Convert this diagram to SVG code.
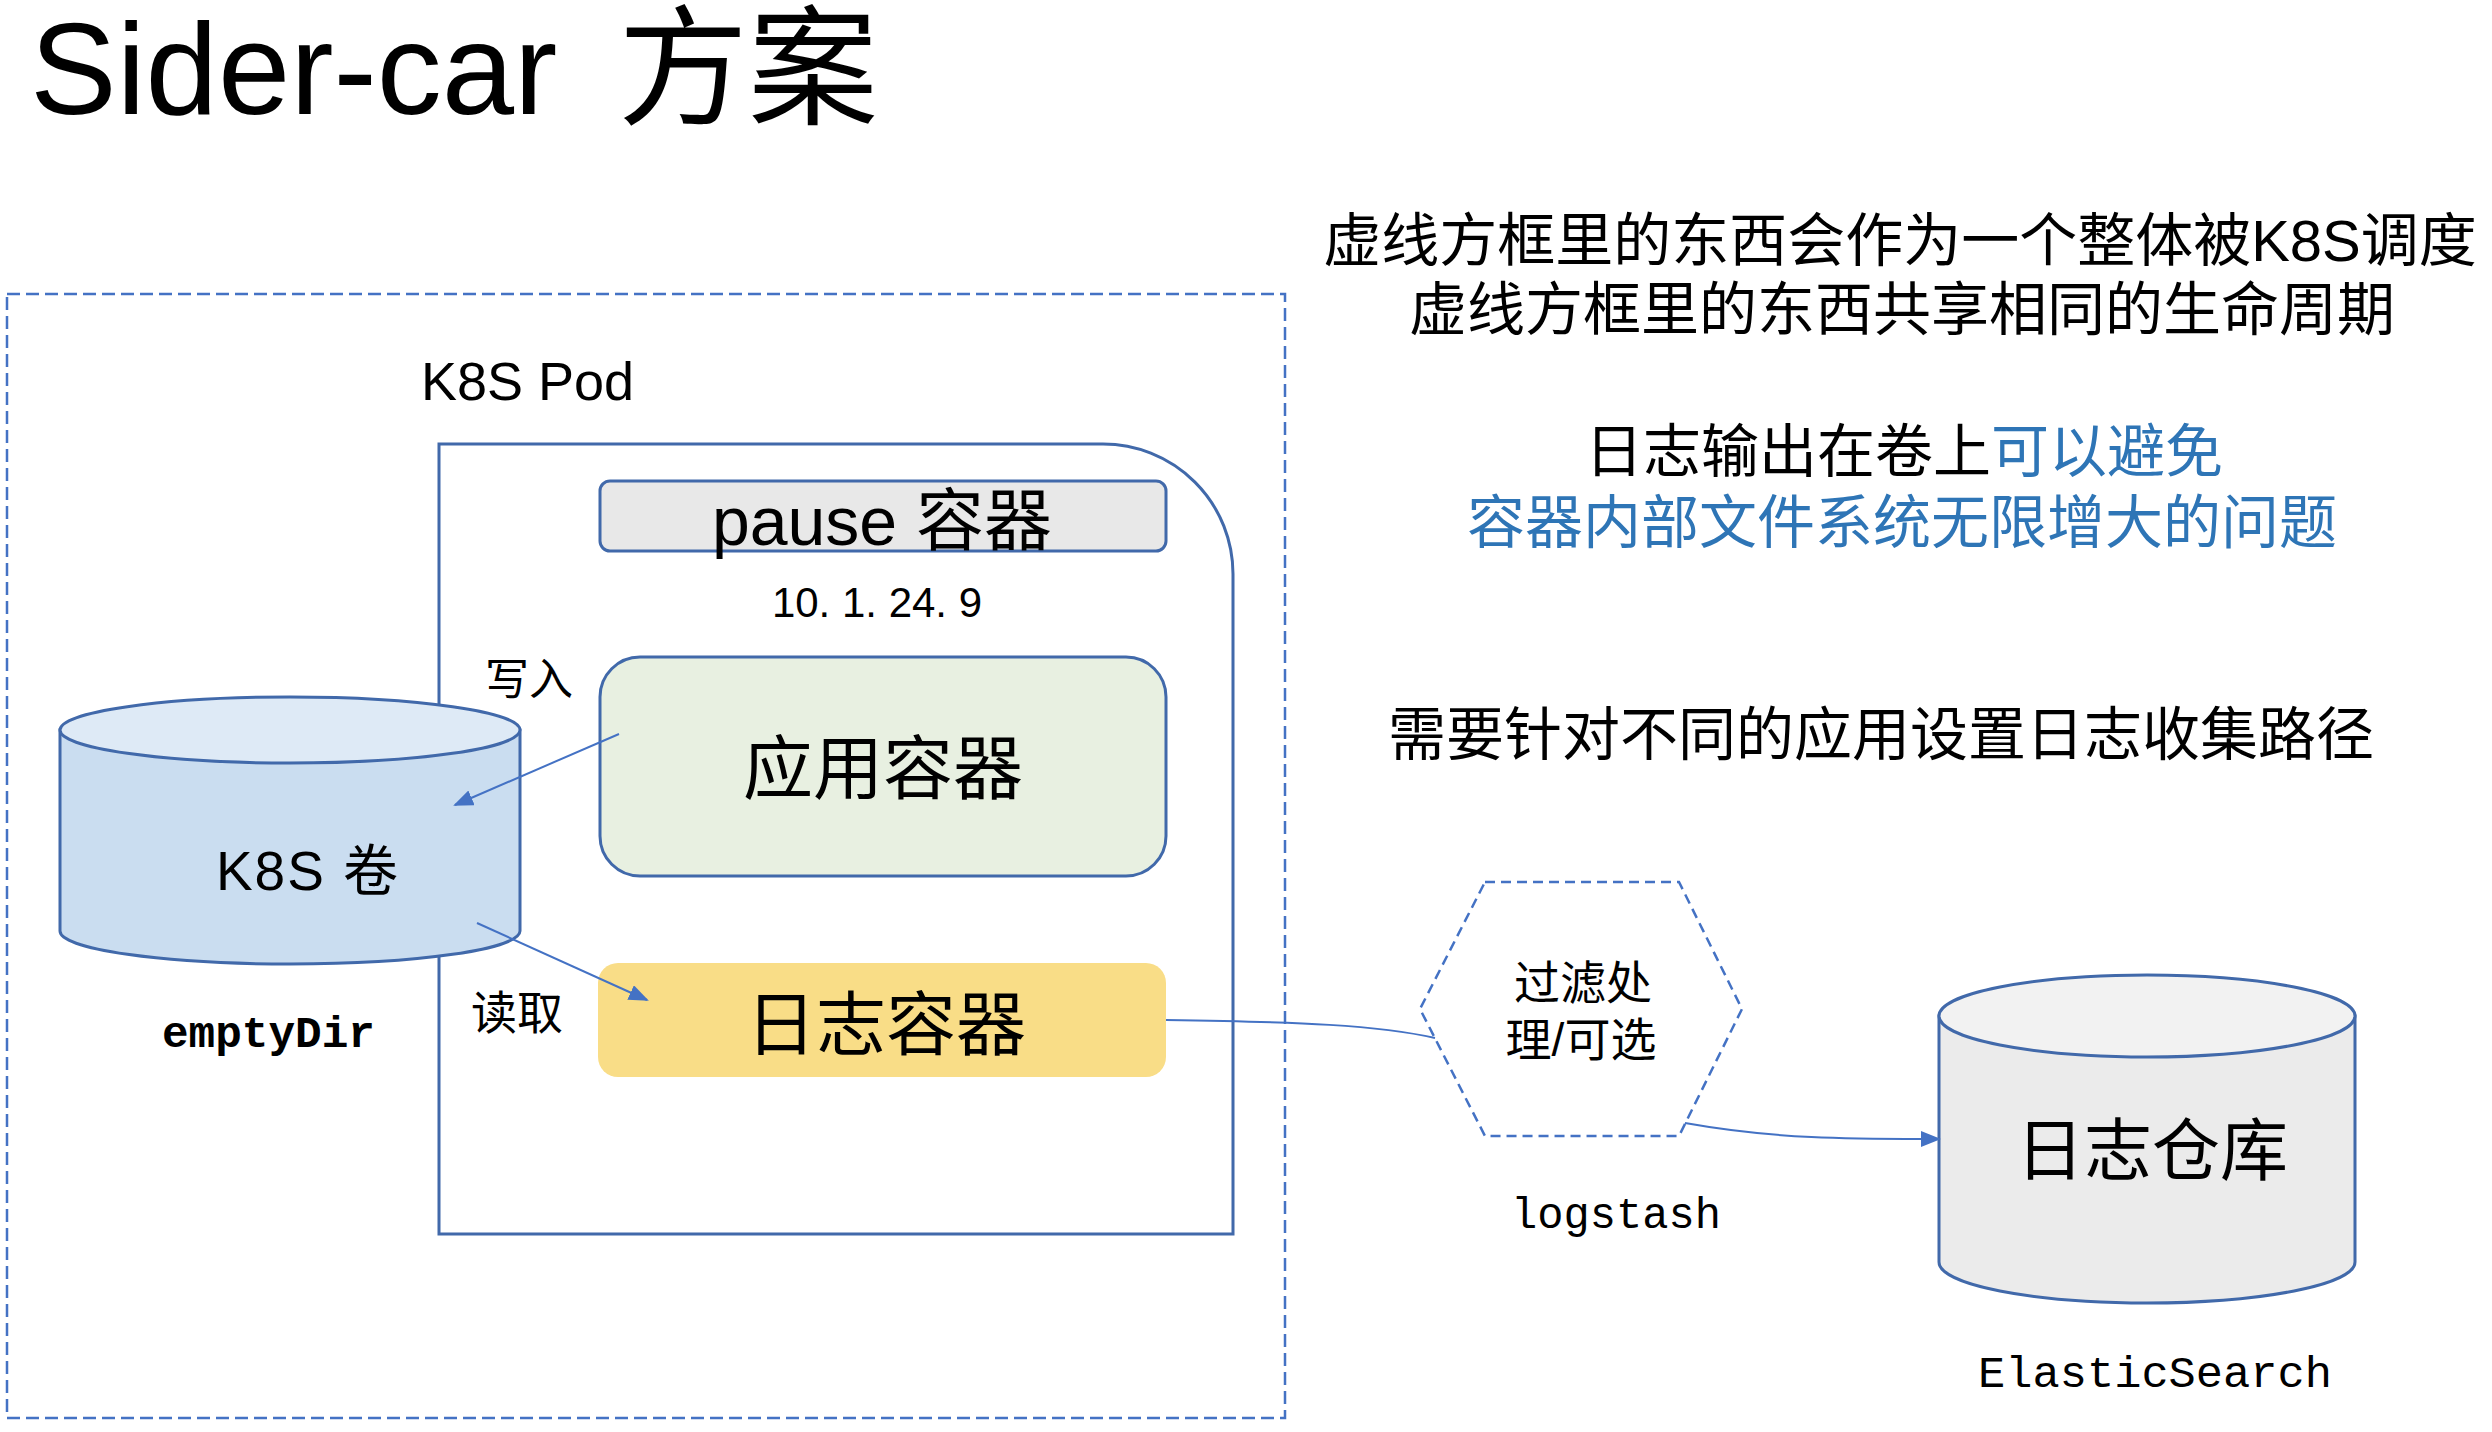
<svg xmlns="http://www.w3.org/2000/svg" width="2492" height="1432" viewBox="0 0 2492 1432">
<style>
.cjk{font-family:"Liberation Sans","Noto Sans CJK SC",sans-serif;fill:#000}
.mono{font-family:"Liberation Mono","DejaVu Sans Mono",monospace;fill:#000}
.blue{fill:#2E75B6}
.outline{stroke:#4169AA;stroke-width:3}
.conn{stroke:#4472C4;stroke-width:2;fill:none}
</style>
<defs>
<marker id="arr" markerUnits="userSpaceOnUse" markerWidth="20" markerHeight="16" refX="18" refY="8" orient="auto">
<path d="M0,0 L20,8 L0,16 Z" fill="#4472C4"/>
</marker>
</defs>
<rect width="2492" height="1432" fill="#fff"/>

<g id="title">
<text class="cjk" x="30" y="114" font-size="130">Sider-car<tspan x="618">方案</tspan></text>
</g>

<g id="scope">
<rect x="7" y="294" width="1278" height="1124" fill="none" stroke="#4472C4" stroke-width="2.5" stroke-dasharray="13 6"/>
</g>

<g id="pod">
<path d="M439,444 H1103 A130,130 0 0 1 1233,574 V1234 H439 Z" fill="#fff" class="outline"/>
<text class="cjk" x="421" y="400" font-size="54">K8S Pod</text>
</g>

<g id="pause">
<rect x="600" y="481" width="566" height="70" rx="10" fill="#E8E8E8" class="outline"/>
<text class="cjk" x="882" y="545" font-size="68" text-anchor="middle">pause 容器</text>
<text class="cjk" x="877" y="617" font-size="42" text-anchor="middle">10. 1. 24. 9</text>
</g>

<g id="app">
<rect x="600" y="657" width="566" height="219" rx="40" fill="#E8F0E1" class="outline"/>
<text class="cjk" x="883" y="794" font-size="70" text-anchor="middle">应用容器</text>
</g>

<g id="logc">
<rect x="598" y="963" width="568" height="114" rx="20" fill="#F9DD87"/>
<text class="cjk" x="886" y="1050" font-size="70" text-anchor="middle">日志容器</text>
</g>

<g id="volume">
<path d="M60,730 V931 A230,33 0 0 0 520,931 V730 Z" fill="#CADDF0" class="outline"/>
<ellipse cx="290" cy="730" rx="230" ry="33" fill="#DEEAF6" class="outline"/>
<text class="cjk" x="216" y="890" font-size="55" textLength="182" lengthAdjust="spacing">K8S 卷</text>
<text class="mono" x="162" y="1047" font-size="45" font-weight="bold" textLength="213" lengthAdjust="spacingAndGlyphs">emptyDir</text>
</g>

<g id="logstash">
<polygon points="1485,882 1679,882 1742,1009 1679,1136 1485,1136 1420,1009" fill="#fff" stroke="#4472C4" stroke-width="2.5" stroke-dasharray="10 6"/>
<text class="cjk" x="1583" y="999" font-size="46" text-anchor="middle">过滤处</text>
<text class="cjk" x="1581" y="1056" font-size="46" text-anchor="middle">理/可选</text>
<text class="mono" x="1511" y="1228" font-size="44" textLength="210" lengthAdjust="spacingAndGlyphs">logstash</text>
</g>

<g id="es">
<path d="M1939,1016 V1262 A208,41 0 0 0 2355,1262 V1016 Z" fill="#EBEBEB" class="outline"/>
<ellipse cx="2147" cy="1016" rx="208" ry="41" fill="#F2F2F2" class="outline"/>
<text class="cjk" x="2152" y="1175" font-size="68" text-anchor="middle">日志仓库</text>
<text class="mono" x="1978" y="1387" font-size="45" textLength="354" lengthAdjust="spacingAndGlyphs">ElasticSearch</text>
</g>

<g id="connectors">
<line x1="619" y1="734" x2="455" y2="805" class="conn" marker-end="url(#arr)"/>
<line x1="477" y1="923" x2="647" y2="1000" class="conn" marker-end="url(#arr)"/>
<path d="M1166,1020 C1300,1022 1378,1025 1435,1038" class="conn"/>
<path d="M1685,1123 C1780,1140 1860,1139 1939,1139" class="conn" marker-end="url(#arr)"/>
<text class="cjk" x="485" y="695" font-size="44">写入</text>
<text class="cjk" x="471" y="1029" font-size="46">读取</text>
</g>

<g id="notes">
<text class="cjk" x="1900" y="261" font-size="58" text-anchor="middle">虚线方框里的东西会作为一个整体被K8S调度</text>
<text class="cjk" x="1902" y="330" font-size="58" text-anchor="middle">虚线方框里的东西共享相同的生命周期</text>
<text class="cjk" x="1904" y="472" font-size="58" text-anchor="middle">日志输出在卷上<tspan class="blue">可以避免</tspan></text>
<text class="cjk blue" x="1902" y="543" font-size="58" text-anchor="middle">容器内部文件系统无限增大的问题</text>
<text class="cjk" x="1881" y="755" font-size="58" text-anchor="middle">需要针对不同的应用设置日志收集路径</text>
</g>
</svg>
